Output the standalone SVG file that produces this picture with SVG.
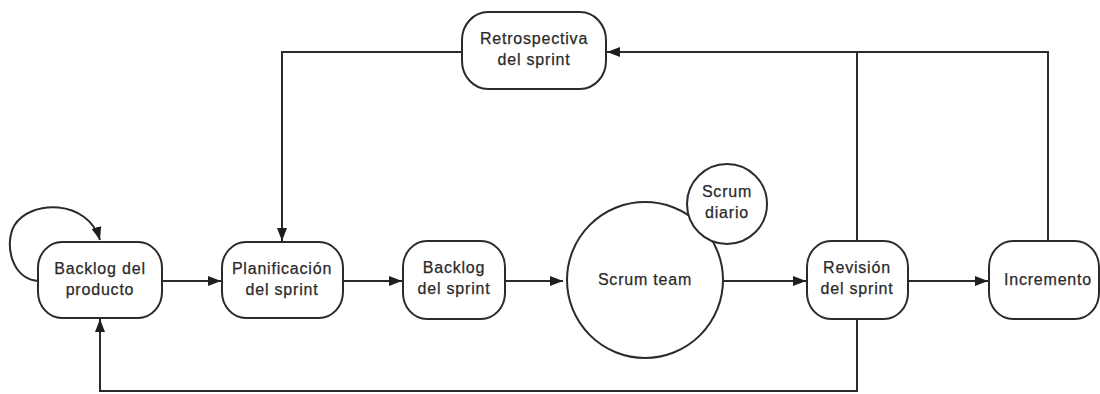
<svg xmlns="http://www.w3.org/2000/svg" width="1100" height="394" viewBox="0 0 1100 394">
  <defs>
    <marker id="arrow" viewBox="0 0 13 10" refX="13" refY="5" markerWidth="13" markerHeight="10" markerUnits="userSpaceOnUse" orient="auto">
      <path d="M0,0 L13,5 L0,10 Z" fill="#1e1e1e"/>
    </marker>
    <style>
      .box { fill: #fff; stroke: #2b2b2b; stroke-width: 2; }
      .edge { fill: none; stroke: #2b2b2b; stroke-width: 2; }
      .label { font-family: "Liberation Sans", Arial, sans-serif; font-size: 16px; letter-spacing: 0.8px; fill: #2a2a2a; stroke: #2a2a2a; stroke-width: 0.25; text-anchor: middle; }
    </style>
  </defs>
  <rect width="1100" height="394" fill="#fff"/>

  <!-- connectors -->
  <g id="connectors">
    <!-- self loop on product backlog -->
    <path class="edge" d="M38,281 C12,279 4,245 14,226 C30,199 88,199 100,240" marker-end="url(#arrow)"/>
    <line class="edge" x1="162" y1="281" x2="221" y2="281" marker-end="url(#arrow)"/>
    <line class="edge" x1="343" y1="281" x2="402" y2="281" marker-end="url(#arrow)"/>
    <line class="edge" x1="505" y1="281" x2="563" y2="281" marker-end="url(#arrow)"/>
    <line class="edge" x1="723" y1="281" x2="806" y2="281" marker-end="url(#arrow)"/>
    <line class="edge" x1="908" y1="281" x2="988" y2="281" marker-end="url(#arrow)"/>
    <!-- retrospective back to planning -->
    <polyline class="edge" points="462,52 282,52 282,241" marker-end="url(#arrow)"/>
    <!-- review and increment feed the retrospective -->
    <polyline class="edge" points="1048,240 1048,52 607,52" marker-end="url(#arrow)"/>
    <line class="edge" x1="857" y1="240" x2="857" y2="52"/>
    <!-- review back to product backlog -->
    <polyline class="edge" points="857,318 857,391 100,391 100,319" marker-end="url(#arrow)"/>
  </g>

  <g id="backlog-producto">
    <rect class="box" x="38" y="242" width="124" height="76" rx="24" ry="26"/>
    <text class="label" x="100" y="274">Backlog del</text>
    <text class="label" x="100" y="295">producto</text>
  </g>

  <g id="planificacion">
    <rect class="box" x="222" y="242" width="121" height="76" rx="24" ry="26"/>
    <text class="label" x="282" y="274">Planificación</text>
    <text class="label" x="282" y="295">del sprint</text>
  </g>

  <g id="backlog-sprint">
    <rect class="box" x="403" y="241" width="102" height="78" rx="24" ry="26"/>
    <text class="label" x="454" y="273">Backlog</text>
    <text class="label" x="454" y="294">del sprint</text>
  </g>

  <g id="scrum-team">
    <circle class="box" cx="645" cy="280" r="78"/>
    <text class="label" x="645" y="285">Scrum team</text>
  </g>

  <g id="scrum-diario">
    <circle class="box" cx="727" cy="204" r="40"/>
    <text class="label" x="727" y="197">Scrum</text>
    <text class="label" x="727" y="218">diario</text>
  </g>

  <g id="revision">
    <rect class="box" x="807" y="241" width="101" height="78" rx="24" ry="26"/>
    <text class="label" x="857" y="273">Revisión</text>
    <text class="label" x="857" y="294">del sprint</text>
  </g>

  <g id="incremento">
    <rect class="box" x="989" y="241" width="110" height="78" rx="24" ry="26"/>
    <text class="label" x="1048" y="285">Incremento</text>
  </g>

  <g id="retrospectiva">
    <rect class="box" x="462" y="12" width="144" height="77" rx="26" ry="28"/>
    <text class="label" x="534" y="44">Retrospectiva</text>
    <text class="label" x="534" y="65">del sprint</text>
  </g>
</svg>
